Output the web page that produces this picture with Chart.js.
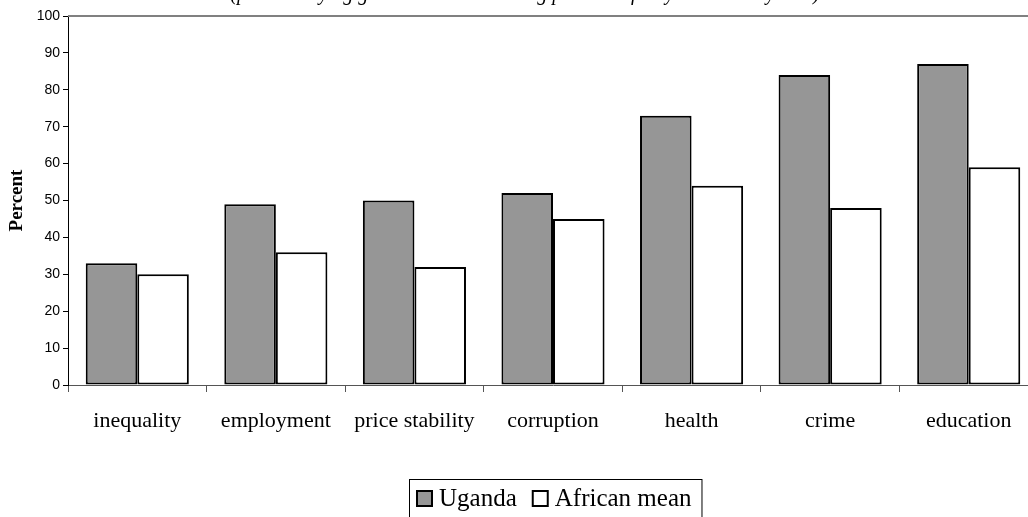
<!DOCTYPE html>
<html>
<head>
<meta charset="utf-8">
<script src="https://cdn.jsdelivr.net/npm/chart.js@4"></script>
<style>
html,body{margin:0;padding:0;background:#fff;overflow:hidden;}
#wrap{width:1028px;height:517px;position:relative;overflow:hidden;}
</style>
</head>
<body>
<div id="wrap"><canvas id="c" width="1038" height="517"></canvas></div>
<script>
const categories = ['inequality','employment','price stability','corruption','health','crime','education'];
const ugandaValues = [33,49,50,52,73,84,87];
const africanMeanValues = [30,36,32,45,54,48,59];
const seriesNames = ['Uganda','African mean'];
const yTicks = [0,10,20,30,40,50,60,70,80,90,100];
const titleText = '(percent saying government is handling problems fairly well or very well)';

const serif = '"Liberation Serif", "DejaVu Serif", serif';
const sans = '"Liberation Sans", Arial, sans-serif';

const extras = {
  id: 'extras',
  afterDraw(chart) {
    const ctx = chart.ctx;
    const ca = chart.chartArea;
    ctx.save();
    ctx.strokeStyle = '#808080';
    ctx.lineWidth = 2;
    ctx.beginPath();
    ctx.moveTo(ca.left, ca.top);
    ctx.lineTo(1038, ca.top);
    ctx.stroke();
    ctx.fillStyle = '#000';
    ctx.font = 'italic 20px ' + serif;
    ctx.textAlign = 'center';
    ctx.textBaseline = 'alphabetic';
    ctx.fillText(titleText, 525, 0);
    ctx.font = '25px ' + serif;
    ctx.textBaseline = 'middle';
    ctx.textAlign = 'left';
    const ds = chart.data.datasets;
    const boxX = 409, boxY = 479, itemY = 498;
    let x = boxX + 8;
    const items = [];
    ds.forEach((d) => {
      const w = ctx.measureText(d.label).width;
      items.push({d, x, w});
      x += 22 + w + 16;
    });
    const boxW = x - 16 + 10 - boxX;
    ctx.fillStyle = '#fff';
    ctx.fillRect(boxX, boxY, boxW, 40);
    ctx.strokeStyle = '#000';
    ctx.lineWidth = 1;
    ctx.strokeRect(boxX + 0.5, boxY + 0.5, boxW, 40);
    items.forEach(it => {
      ctx.fillStyle = it.d.backgroundColor;
      ctx.fillRect(it.x, itemY - 7, 15, 15);
      ctx.strokeStyle = '#000';
      ctx.lineWidth = 2;
      ctx.strokeRect(it.x, itemY - 7, 15, 15);
      ctx.fillStyle = '#000';
      ctx.fillText(it.d.label, it.x + 22, itemY + 1);
    });
    ctx.restore();
  }
};

new Chart(document.getElementById('c'), {
  type: 'bar',
  data: {
    labels: categories,
    datasets: [
      {label: seriesNames[0], data: ugandaValues, backgroundColor: '#969696', borderColor: '#000', borderWidth: 2, borderSkipped: false},
      {label: seriesNames[1], data: africanMeanValues, backgroundColor: '#ffffff', borderColor: '#000', borderWidth: 2, borderSkipped: false}
    ]
  },
  options: {
    responsive: false,
    animation: false,
    devicePixelRatio: 1,
    layout: {padding: {top: 16, right: 0, left: 0, bottom: 72}},
    plugins: {legend: {display: false}, title: {display: false}, tooltip: {enabled: false}},
    datasets: {bar: {categoryPercentage: 0.744, barPercentage: 1.0}},
    scales: {
      x: {
        grid: {display: true, drawOnChartArea: false, offset: true, tickLength: 7, color: '#555', lineWidth: 1},
        border: {display: true, color: '#555', width: 1},
        ticks: {font: {family: serif, size: 22}, color: '#000', padding: 16, maxRotation: 0, autoSkip: false},
        afterFit(s) { s.height = 60; }
      },
      y: {
        min: 0, max: 100,
        afterBuildTicks(s) { s.ticks = yTicks.map(v => ({value: v})); },
        grid: {display: true, drawOnChartArea: false, tickLength: 5, color: '#000'},
        border: {display: true, color: '#000', width: 1},
        ticks: {font: {family: sans, size: 14}, color: '#000', padding: 3},
        title: {display: true, text: 'Percent', font: {family: serif, size: 19, weight: 'bold'}, color: '#000', padding: {top: 6, bottom: 0}},
        afterFit(s) { s.width = 68; }
      }
    }
  },
  plugins: [extras]
});
</script>
</body>
</html>
